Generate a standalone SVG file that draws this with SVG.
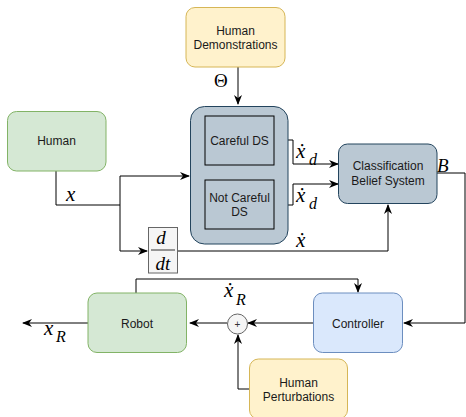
<svg xmlns="http://www.w3.org/2000/svg" width="466" height="417" viewBox="0 0 466 417">
<defs>
<style>
.lbl{font-family:"Liberation Sans",Arial,sans-serif;font-size:12px;fill:#1a1a1a;text-anchor:middle}
.m{font-family:"Liberation Serif","DejaVu Serif",serif;font-style:italic;fill:#000}
.c{fill:none;stroke:#000;stroke-width:1}
.yellow{fill:#fff2cc;stroke:#d6b656}
.green{fill:#d5e8d4;stroke:#82b366}
.blue{fill:#dae8fc;stroke:#6c8ebf}
.slate{fill:#bac8d3;stroke:#23445d}
.grey{fill:#f5f5f5;stroke:#666666}
</style>
<marker id="ah" viewBox="0 0 10 8" refX="9" refY="4" markerWidth="10" markerHeight="8" markerUnits="userSpaceOnUse" orient="auto">
<path d="M0,0 L10,4 L0,8 L3,4 z" fill="#000"/>
</marker>
</defs>
<rect width="466" height="417" fill="#fff"/>

<g id="connectors">
<path class="c" d="M238,67 V104" marker-end="url(#ah)"/>
<path class="c" d="M56,171 V205 H120 V176 H189" marker-end="url(#ah)"/>
<path class="c" d="M120,205 V251 H147" marker-end="url(#ah)"/>
<path class="c" d="M178,251 H388 V205" marker-end="url(#ah)"/>
<path class="c" d="M274,140 H293 V164 H338" marker-end="url(#ah)"/>
<path class="c" d="M274,205 H293 V184 H338" marker-end="url(#ah)"/>
<path class="c" d="M437,173 H465 V323 H404" marker-end="url(#ah)"/>
<path class="c" d="M136,293 V279 H358 V292" marker-end="url(#ah)"/>
<path class="c" d="M313,323 H248" marker-end="url(#ah)"/>
<path class="c" d="M227,323 H190" marker-end="url(#ah)"/>
<path class="c" d="M88,323 H23" marker-end="url(#ah)"/>
<path class="c" d="M250,389 H238 V335" marker-end="url(#ah)"/>
</g>

<g id="human-demonstrations">
<rect class="yellow" x="186" y="7.5" width="99" height="59.5" rx="9"/>
<text class="lbl" x="235.5" y="35">Human</text>
<text class="lbl" x="235.5" y="49">Demonstrations</text>
</g>

<g id="ds-group">
<rect class="slate" x="190.5" y="106.5" width="97.5" height="137.5" rx="14"/>
</g>
<g id="careful-ds">
<rect x="205" y="116" width="69" height="49" fill="none" stroke="#000"/>
<text class="lbl" x="239.5" y="145">Careful DS</text>
</g>
<g id="not-careful-ds">
<rect x="205" y="180" width="69" height="49" fill="none" stroke="#000"/>
<text class="lbl" x="239.5" y="202">Not Careful</text>
<text class="lbl" x="239.5" y="216">DS</text>
</g>

<g id="human">
<rect class="green" x="7.5" y="111.5" width="98.5" height="59.5" rx="9"/>
<text class="lbl" x="56.5" y="145">Human</text>
</g>

<g id="ddt">
<rect class="grey" x="148.5" y="227.5" width="29" height="45.5"/>
<text class="m" x="161" y="244" font-size="19" text-anchor="middle">d</text>
<line x1="151" y1="250" x2="175" y2="250" stroke="#000" stroke-width="0.8"/>
<text class="m" x="163" y="270" font-size="19" text-anchor="middle">dt</text>
</g>

<g id="classification">
<rect class="slate" x="338.5" y="144" width="98.5" height="59.5" rx="9"/>
<text class="lbl" x="388" y="170">Classification</text>
<text class="lbl" x="388" y="185">Belief System</text>
</g>

<g id="controller">
<rect class="blue" x="313.5" y="293" width="89" height="59.5" rx="9"/>
<text class="lbl" x="358" y="328">Controller</text>
</g>

<g id="robot">
<rect class="green" x="88" y="293" width="98.5" height="59.5" rx="9"/>
<text class="lbl" x="137" y="328">Robot</text>
</g>

<g id="sum">
<circle class="grey" cx="237.5" cy="324" r="10"/>
<text x="237.5" y="328" font-family="Liberation Sans,sans-serif" font-size="10" text-anchor="middle" fill="#333">+</text>
</g>

<g id="human-perturbations">
<rect class="yellow" x="249.5" y="359" width="98" height="60" rx="9"/>
<text class="lbl" x="298.5" y="387">Human</text>
<text class="lbl" x="298.5" y="401">Perturbations</text>
</g>

<g id="math-labels">
<text class="m" x="66" y="201" font-size="21">x</text>
<text x="214" y="87" font-family="Liberation Serif,serif" font-size="19">Θ</text>
<text class="m" x="296" y="158" font-size="21">ẋ</text>
<text class="m" x="309" y="165" font-size="16">d</text>
<text class="m" x="296" y="202" font-size="21">ẋ</text>
<text class="m" x="309" y="209" font-size="16">d</text>
<text class="m" x="437" y="172" font-size="19">B</text>
<text class="m" x="296" y="247" font-size="21">ẋ</text>
<text class="m" x="224" y="297" font-size="21">ẋ</text>
<text class="m" x="236" y="305" font-size="16">R</text>
<text class="m" x="44" y="335" font-size="21">x</text>
<text class="m" x="56" y="342" font-size="16">R</text>
</g>
</svg>
